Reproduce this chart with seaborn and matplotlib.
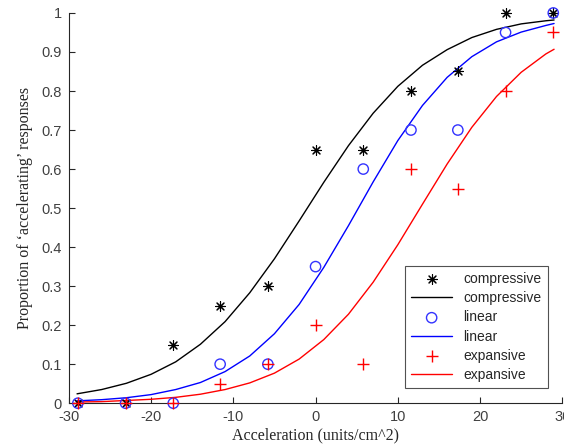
import pandas as pd
import seaborn as sns
import matplotlib.pyplot as plt

# measured points
accel = [-28.9, -23.1, -17.3, -11.6, -5.8, 0.0, 5.8, 11.6, 17.3, 23.1, 28.9]
compressive = [0, 0, 0.15, 0.25, 0.30, 0.65, 0.65, 0.80, 0.85, 1.0, 1.0]
linear = [0, 0, 0, 0.10, 0.10, 0.35, 0.60, 0.70, 0.70, 0.95, 1.0]
expansive = [0, 0, 0, 0.05, 0.10, 0.20, 0.10, 0.60, 0.55, 0.80, 0.95]

# fitted curves
fit_x = [-29, -26, -23, -20, -17, -14, -11, -8, -5, -2, 1, 4, 7, 10, 13, 16, 19, 22, 25, 28, 29]
fit_compressive = [0.024, 0.035, 0.051, 0.074, 0.106, 0.151, 0.209, 0.283, 0.370, 0.467, 0.566,
                   0.660, 0.743, 0.812, 0.866, 0.906, 0.937, 0.958, 0.972, 0.980, 0.982]
fit_linear = [0.006, 0.009, 0.014, 0.022, 0.035, 0.053, 0.081, 0.121, 0.178, 0.253, 0.348,
              0.455, 0.567, 0.673, 0.763, 0.835, 0.888, 0.926, 0.951, 0.968, 0.973]
fit_expansive = [0.003, 0.004, 0.007, 0.010, 0.015, 0.023, 0.035, 0.052, 0.077, 0.113, 0.163,
                 0.228, 0.310, 0.406, 0.510, 0.613, 0.707, 0.786, 0.848, 0.895, 0.907]

pts = pd.DataFrame({"x": accel, "compressive": compressive, "linear": linear, "expansive": expansive})
fits = pd.DataFrame({"x": fit_x, "compressive": fit_compressive, "linear": fit_linear,
                     "expansive": fit_expansive})

sns.set_style("ticks")
plt.rcParams["font.family"] = ["Liberation Sans", "DejaVu Sans"]
plt.rcParams["axes.unicode_minus"] = False

fig = plt.figure(figsize=(5.64, 4.47), dpi=100)
ax = fig.add_axes([0.122, 0.098, 0.875, 0.873])

asterisk = (8, 2, 0)
sns.scatterplot(x="x", y="compressive", data=pts, marker=asterisk, color="black", s=50,
                linewidth=0.8, label="compressive", ax=ax, zorder=3, clip_on=False)
sns.lineplot(x="x", y="compressive", data=fits, color="black", linewidth=1.0,
             label="compressive", ax=ax)
sns.scatterplot(x="x", y="linear", data=pts, marker="o", facecolors="none", edgecolor="#3333ff",
                s=55, linewidth=1.0, label="linear", ax=ax, zorder=3, clip_on=False)
sns.lineplot(x="x", y="linear", data=fits, color="blue", linewidth=1.0, label="linear", ax=ax)
sns.scatterplot(x="x", y="expansive", data=pts, marker="+", color="red", s=70,
                linewidth=1.0, label="expansive", ax=ax, zorder=3, clip_on=False)
sns.lineplot(x="x", y="expansive", data=fits, color="red", linewidth=1.0, label="expansive", ax=ax)

ax.set_xlim(-30, 30)
ax.set_ylim(0, 1)
ax.set_xticks([-30, -20, -10, 0, 10, 20, 30])
ax.set_yticks([i / 10 for i in range(11)])
ax.set_yticklabels(["0", "0.1", "0.2", "0.3", "0.4", "0.5", "0.6", "0.7", "0.8", "0.9", "1"])
ax.tick_params(direction="in", length=4, width=0.8, labelsize=10.5, colors="#262626",
               labelcolor="#404040", pad=5)
for side in ["top", "right"]:
    ax.spines[side].set_visible(False)
for side in ["left", "bottom"]:
    ax.spines[side].set_color("#262626")
    ax.spines[side].set_linewidth(0.8)

ax.set_xlabel("Acceleration (units/cm^2)", family=["Liberation Serif", "DejaVu Serif"],
              fontsize=11.5, labelpad=2)
ax.set_ylabel("Proportion of \u2018accelerating\u2019 responses",
              family=["Liberation Serif", "DejaVu Serif"], fontsize=11.5, labelpad=6)

leg = ax.legend(loc="lower right", bbox_to_anchor=(0.985, 0.02), fontsize=10, frameon=True,
                fancybox=False, edgecolor="#262626", handlelength=3.0, labelspacing=0.38,
                borderpad=0.45)
leg.get_frame().set_linewidth(0.8)

plt.savefig("out.png", dpi=100)
